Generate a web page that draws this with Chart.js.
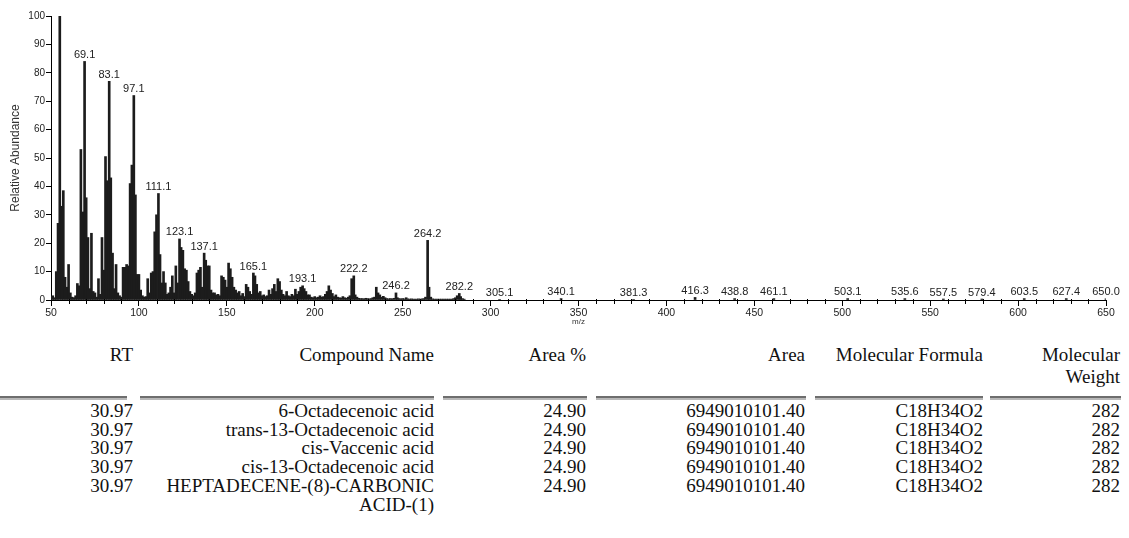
<!DOCTYPE html>
<html>
<head>
<meta charset="utf-8">
<script src="https://cdn.jsdelivr.net/npm/chart.js@4.4.1/dist/chart.umd.min.js"></script>
<style>
  html, body { margin: 0; padding: 0; background: #fff; }
  body { width: 1129px; height: 538px; position: relative; overflow: hidden; }
  #spec { position: absolute; left: 0; top: 0; }
  .cell {
    position: absolute;
    font-family: "Liberation Serif", "Times New Roman", serif;
    font-size: 19px;
    color: #111;
    text-align: right;
    white-space: pre;
  }
  .rule { position: absolute; height: 2px; border-top: 2px solid #6e6e6e; background: #b8b8b8; }
</style>
</head>
<body>
<canvas id="spec" width="1129" height="330"></canvas>
<div id="table"></div>
<script>
// Mass spectrum: m/z positions and relative abundance (%)
const spectrumMz = [
  50, 51, 52, 53, 54, 55, 56, 57, 58, 59, 60, 61, 62, 63, 64, 65, 66, 67, 68, 69.1,
  70, 71, 72, 73, 74, 75, 76, 77, 78, 79, 80, 81, 82, 83.1, 84, 85, 86, 87, 88, 89,
  90, 91, 92, 93, 94, 95, 96, 97.1, 98, 99, 100, 101, 102, 103, 104, 105, 106, 107, 108, 109,
  110, 111.1, 112, 113, 114, 115, 116, 117, 118, 119, 120, 121, 122, 123.1, 124, 125, 126, 127, 128, 129,
  130, 131, 132, 133, 134, 135, 136, 137.1, 138, 139, 140, 141, 142, 143, 144, 145, 146, 147, 148, 149,
  150, 151, 152, 153, 154, 155, 156, 157, 158, 159, 160, 161, 162, 163, 164, 165.1, 166, 167, 168, 169,
  170, 171, 172, 173, 174, 175, 176, 177, 178, 179, 180, 181, 182, 183, 184, 185, 186, 187, 188, 189,
  190, 191, 192, 193.1, 194, 195, 196, 197, 198, 199, 200, 201, 202, 203, 204, 205, 206, 207, 208, 209,
  210, 211, 212, 213, 214, 215, 216, 217, 218, 219, 220, 221, 222.2, 223, 224, 225, 226, 227, 228, 229,
  230, 231, 232, 233, 234, 235, 236, 237, 238, 239, 240, 241, 242, 243, 244, 245, 246.2, 247, 248, 249,
  250, 251, 252, 253, 254, 255, 256, 257, 258, 259, 260, 261, 262, 263, 264.2, 265, 266, 267, 268, 269,
  270, 271, 272, 273, 274, 275, 276, 277, 278, 279, 280, 281, 282.2, 283, 284, 285,
  305.1, 340.1, 381.3, 416.3, 438.8, 461.1, 503.1, 535.6, 557.5, 579.4, 603.5, 627.4, 650.0
];
const spectrumAbundance = [
  1.2, 1.5, 0.8, 10, 27, 100, 33, 38.5, 8, 4.5, 12.5, 2.5, 1, 0.8, 1.5, 5.8, 5, 53, 31, 84,
  36, 22, 4, 23.5, 3, 2.5, 1, 7.5, 2, 22, 10.5, 50.5, 42, 77, 43, 16.5, 4, 12.5, 2.5, 1.5,
  1, 11.5, 11.5, 12.5, 12, 41, 47.5, 72, 37, 9, 9, 3.5, 1.5, 1, 1.2, 7.5, 2.5, 9.5, 10, 24,
  30, 37.5, 16, 6, 10, 6, 2, 2.5, 4.5, 8.5, 2.5, 12, 6, 21.5, 18.5, 17.5, 11, 10.5, 6.5, 3,
  2, 1.5, 2.5, 9.5, 10.5, 11.5, 4.5, 16.5, 14, 12, 12, 3.5, 2.5, 2.5, 1.8, 2, 1.5, 8.5, 8, 7,
  4.5, 13, 11, 8, 4.5, 3.5, 2.5, 3, 1.5, 2.3, 1.2, 5.5, 4.5, 3, 2, 9.5, 8.5, 5.5, 2.5, 3,
  1.5, 1.8, 1.2, 1.5, 3.5, 2, 4, 5.5, 3, 7.5, 6.5, 3.5, 2, 1.5, 3, 1.5, 1.2, 2, 1.5, 3.8,
  2, 3, 4.5, 5, 4, 3, 1.8, 1.8, 1, 0.8, 1.2, 0.8, 1, 1.5, 1, 1.2, 2, 3, 5, 3.5,
  2.3, 1.2, 1.8, 1, 0.8, 0.7, 1.2, 0.8, 0.6, 1, 1.5, 7.5, 8.5, 1.8, 1, 0.6, 0.5, 0.5, 0.4, 0.6,
  0.5, 0.4, 0.5, 0.8, 1, 4.5, 2.5, 1.8, 1, 1.3, 0.8, 0.5, 0.4, 0.5, 0.4, 0.6, 2.5, 0.8, 0.5, 0.4,
  0.5, 0.4, 0.8, 0.4, 0.3, 0.4, 0.3, 0.3, 0.3, 0.4, 0.3, 0.4, 0.5, 1, 21, 4.5, 1, 0.4, 0.3, 0.3,
  0.3, 0.3, 0.3, 0.3, 0.3, 0.3, 0.3, 0.3, 0.3, 0.5, 0.8, 1.5, 2.3, 1.2, 0.5, 0.3,
  0.2, 0.5, 0.2, 0.9, 0.5, 0.5, 0.5, 0.5, 0.35, 0.35, 0.5, 0.5, 0.4
];
// Peaks annotated with their m/z
const labelledPeaks = [
  69.1, 83.1, 97.1, 111.1, 123.1, 137.1, 165.1, 193.1, 222.2, 246.2, 264.2, 282.2,
  305.1, 340.1, 381.3, 416.3, 438.8, 461.1, 503.1, 535.6, 557.5, 579.4, 603.5, 627.4, 650.0
];
const xTickValues = [50, 100, 150, 200, 250, 300, 350, 400, 450, 500, 550, 600, 650];
const yTickValues = [0, 10, 20, 30, 40, 50, 60, 70, 80, 90, 100];

// Identification table
const tableHeaders = [['RT'], ['Compound Name'], ['Area %'], ['Area'], ['Molecular Formula'], ['Molecular', 'Weight']];
const rtValues = ['30.97', '30.97', '30.97', '30.97', '30.97'];
const compoundNames = ['6-Octadecenoic acid', 'trans-13-Octadecenoic acid', 'cis-Vaccenic acid', 'cis-13-Octadecenoic acid', 'HEPTADECENE-(8)-CARBONIC\nACID-(1)'];
const areaPercent = ['24.90', '24.90', '24.90', '24.90', '24.90'];
const areaValues = ['6949010101.40', '6949010101.40', '6949010101.40', '6949010101.40', '6949010101.40'];
const formulas = ['C18H34O2', 'C18H34O2', 'C18H34O2', 'C18H34O2', 'C18H34O2'];
const molWeights = ['282', '282', '282', '282', '282'];

const SANS = '"Liberation Sans", Arial, sans-serif';

// Short ticks every 10 m/z between the labelled ones
const minorTicks = {
  id: 'minorTicks',
  afterDraw(chart) {
    const sx = chart.scales.x, ctx = chart.ctx, y0 = sx.top;
    ctx.save();
    ctx.strokeStyle = '#000';
    ctx.lineWidth = 1;
    for (let v = sx.min; v <= sx.max; v += 10) {
      if (v % 50 === 0) continue;
      const px = Math.round(sx.getPixelForValue(v)) + 0.5;
      ctx.beginPath();
      ctx.moveTo(px, y0 - 1);
      ctx.lineTo(px, y0 + 4);
      ctx.stroke();
    }
    ctx.restore();
  }
};

// m/z annotations above the labelled peaks
const peakLabels = {
  id: 'peakLabels',
  afterDatasetsDraw(chart) {
    const meta = chart.getDatasetMeta(0);
    const ctx = chart.ctx;
    ctx.save();
    ctx.font = '11px ' + SANS;
    ctx.fillStyle = '#222';
    ctx.textAlign = 'center';
    ctx.textBaseline = 'bottom';
    meta.data.forEach((bar, i) => {
      const mz = spectrumMz[i];
      if (labelledPeaks.includes(mz)) ctx.fillText(mz.toFixed(1), bar.x, bar.y - 1);
    });
    ctx.restore();
  }
};

new Chart(document.getElementById('spec'), {
  type: 'bar',
  data: {
    datasets: [{
      data: spectrumMz.map((m, i) => ({ x: m, y: spectrumAbundance[i] })),
      backgroundColor: '#1c1c1c',
      barThickness: 2,
      borderWidth: 0
    }]
  },
  options: {
    responsive: false,
    animation: false,
    devicePixelRatio: 1,
    layout: { padding: { top: 16, right: 23, left: 0, bottom: 0 } },
    plugins: { legend: { display: false }, tooltip: { enabled: false } },
    scales: {
      x: {
        type: 'linear',
        min: 50, max: 650,
        offset: false,
        afterBuildTicks(scale) { scale.ticks = xTickValues.map(v => ({ value: v })); },
        afterFit(scale) { scale.height = 30; },
        ticks: { font: { size: 10.5, family: SANS }, color: '#222', padding: 1, maxRotation: 0, autoSkip: false },
        grid: { display: true, drawOnChartArea: false, offset: false, tickLength: 6, color: '#000' },
        border: { display: true, color: '#000', width: 1 },
        title: { display: true, text: 'm/z', font: { size: 8, family: SANS }, color: '#333', padding: { top: 0, bottom: 3 } }
      },
      y: {
        min: 0, max: 100,
        afterBuildTicks(scale) { scale.ticks = yTickValues.map(v => ({ value: v })); },
        afterFit(scale) { scale.width = 51; },
        ticks: { font: { size: 10, family: SANS }, color: '#222', padding: 1 },
        grid: { display: true, drawOnChartArea: false, tickLength: 5, color: '#000' },
        border: { display: true, color: '#000', width: 1 },
        title: { display: true, text: 'Relative Abundance', font: { size: 12, family: SANS }, color: '#333', padding: { top: 8, bottom: 0 } }
      }
    }
  },
  plugins: [minorTicks, peakLabels]
});

// Table below the spectrum
const table = document.getElementById('table');
const colRight = [133, 434, 586, 805, 983, 1120];
const ruleSegments = [[0, 127], [140, 434], [443, 587], [596, 806], [815, 983], [990, 1121]];
function addCell(text, right, top, lineHeight) {
  const d = document.createElement('div');
  d.className = 'cell';
  d.textContent = text;
  d.style.right = (1129 - right) + 'px';
  d.style.top = top + 'px';
  d.style.lineHeight = lineHeight + 'px';
  table.appendChild(d);
}
tableHeaders.forEach((h, c) => addCell(h.join('\n'), colRight[c], 344, 22));
ruleSegments.forEach(([a, b]) => {
  const r = document.createElement('div');
  r.className = 'rule';
  r.style.left = a + 'px';
  r.style.width = (b - a) + 'px';
  r.style.top = '396px';
  table.appendChild(r);
});
const columnsData = [rtValues, compoundNames, areaPercent, areaValues, formulas, molWeights];
rtValues.forEach((_, r) => {
  columnsData.forEach((col, c) => addCell(col[r], colRight[c], 401 + r * 18.7, 19.5));
});
</script>
</body>
</html>
